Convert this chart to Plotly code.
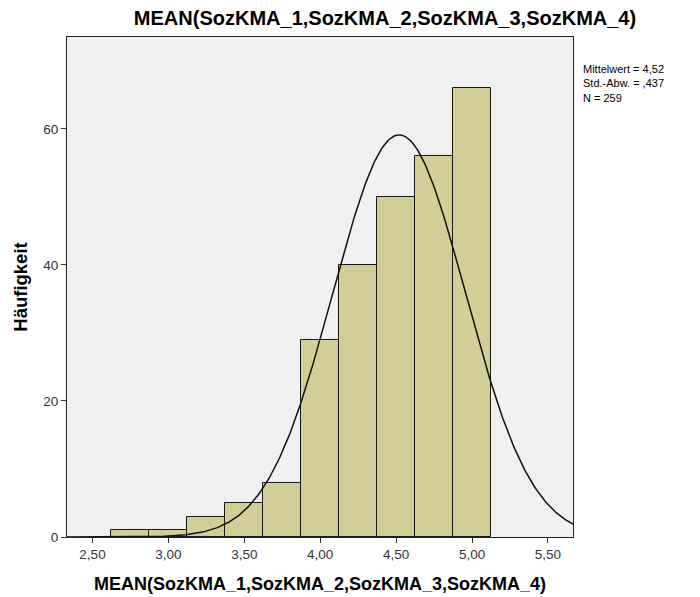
import numpy as np
import plotly.graph_objects as go

# Histogram of scale means (bin width 0.25)
bin_centers = [2.75, 3.00, 3.25, 3.50, 3.75, 4.00, 4.25, 4.50, 4.75, 5.00]
counts = [1, 1, 3, 5, 8, 29, 40, 50, 56, 66]
bin_width = 0.25

# Summary statistics for the fitted normal curve
mean_val = 4.52
sd_val = 0.437
n_val = 259

x_ticks = [2.5, 3.0, 3.5, 4.0, 4.5, 5.0, 5.5]
y_ticks = [0, 20, 40, 60]

x_range = [2.332, 5.665]
y_range = [0, 73.5]

title_text = "MEAN(SozKMA_1,SozKMA_2,SozKMA_3,SozKMA_4)"
font_family = "Liberation Sans, Arial, sans-serif"

fig = go.Figure()

fig.add_trace(go.Bar(
    x=bin_centers,
    y=counts,
    width=bin_width,
    marker=dict(color="#D3CE97", line=dict(color="#1a1a1a", width=1)),
    hoverinfo="x+y",
))

# Normal density scaled to counts
xs = np.linspace(x_range[0], x_range[1], 400)
ys = n_val * bin_width / (sd_val * np.sqrt(2 * np.pi)) * np.exp(-0.5 * ((xs - mean_val) / sd_val) ** 2)
fig.add_trace(go.Scatter(
    x=xs, y=ys, mode="lines",
    line=dict(color="#111111", width=1.5),
    hoverinfo="skip",
))

stats_text = (f"Mittelwert = {str(mean_val).replace('.', ',')}<br>"
              f"Std.-Abw. = ,{str(sd_val).split('.')[1]}<br>"
              f"N = {n_val}")

fig.update_layout(
    width=700, height=597,
    margin=dict(l=67, r=127, t=37, b=60),
    paper_bgcolor="white",
    plot_bgcolor="#F0F0F0",
    separators=",.",
    showlegend=False,
    bargap=0,
    font=dict(family=font_family, size=12, color="#333333"),
    title=dict(
        text=title_text,
        x=385 / 700, xanchor="center",
        y=1 - 18 / 597, yanchor="middle",
        font=dict(family=font_family, size=20, color="#000000", weight="bold"),
    ),
    xaxis=dict(
        range=x_range,
        tickvals=x_ticks,
        tickformat=".2f",
        ticks="outside", ticklen=5, tickcolor="#333333",
        showline=True, linecolor="#222222", linewidth=1, mirror=True,
        showgrid=False, zeroline=False,
        automargin=False,
        tickfont=dict(size=13.5, color="#333333"),
        title=dict(text="MEAN(SozKMA_1,SozKMA_2,SozKMA_3,SozKMA_4)",
                   font=dict(size=18, color="#000000", weight="bold"),
                   standoff=16),
    ),
    yaxis=dict(
        range=y_range,
        tickvals=y_ticks,
        ticks="outside", ticklen=5, tickcolor="#333333",
        showline=True, linecolor="#222222", linewidth=1, mirror=True,
        showgrid=False, zeroline=False,
        automargin=False,
        tickfont=dict(size=13.5, color="#333333"),
        title=dict(text="Häufigkeit",
                   font=dict(size=18.5, color="#000000", weight="bold"),
                   standoff=10),
    ),
)

fig.add_annotation(
    text=stats_text,
    xref="paper", yref="paper",
    x=1.0, y=1 - (61 - 37) / 500,
    xshift=8,
    xanchor="left", yanchor="top",
    align="left", showarrow=False,
    font=dict(family=font_family, size=11, color="#000000"),
)

fig.write_html("out.html")
